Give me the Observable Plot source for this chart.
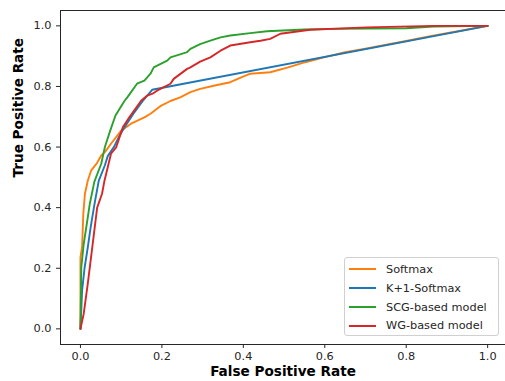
<!DOCTYPE html>
<html>
<head>
<meta charset="utf-8">
<script src="https://cdn.jsdelivr.net/npm/d3@7"></script>
<script src="https://cdn.jsdelivr.net/npm/@observablehq/plot@0.6"></script>
<style>
  html, body { margin: 0; padding: 0; background: #fff; }
  #wrap { position: relative; width: 505px; height: 381px; overflow: hidden; font-family: "DejaVu Sans", sans-serif; }
  #legend { position: absolute; left: 344px; top: 257px; width: 155px; height: 79px; box-sizing: border-box;
    border: 1px solid #d0d0d0; border-radius: 3px; background: rgba(255,255,255,0.8); }
  .item { position: absolute; left: 0; height: 19px; display: flex; align-items: center; }
  .item .sw { width: 27px; height: 0; border-top: 2px solid; margin-left: 4px; margin-right: 10px; }
  .item span { font-size: 11.3px; color: #262626; white-space: nowrap; }
</style>
</head>
<body>
<div id="wrap"><div id="chart"></div><div id="legend"></div></div>
<script>
const seriesNames = ["Softmax", "K+1-Softmax", "SCG-based model", "WG-based model"];
const seriesColors = ["#ff7f0e", "#1f77b4", "#2ca02c", "#d62728"];
const ticks = [0, 0.2, 0.4, 0.6, 0.8, 1.0];

const softmax = [[0,0],[0,.236],[.004,.27],[.007,.38],[.011,.446],[.018,.489],[.026,.522],[.041,.548],[.051,.572],[.061,.585],[.075,.611],[.1,.654],[.124,.677],[.157,.698],[.172,.71],[.196,.735],[.221,.752],[.245,.764],[.27,.781],[.294,.792],[.33,.803],[.368,.814],[.395,.83],[.417,.842],[.466,.847],[.508,.862],[.552,.88],[.6,.897],[.65,.913],[.7,.925],[.748,.937],[.8,.95],[.859,.966],[.93,.983],[1,1]];
const k1softmax = [[0,0],[.004,.126],[.01,.2],[.018,.269],[.025,.335],[.033,.4],[.036,.423],[.045,.489],[.06,.54],[.067,.57],[.082,.6],[.095,.635],[.108,.665],[.13,.71],[.153,.752],[.176,.789],[1,1]];
const scg = [[0,0],[.002,.203],[.008,.28],[.018,.368],[.023,.413],[.034,.485],[.051,.545],[.06,.6],[.072,.65],[.086,.704],[.108,.752],[.115,.764],[.139,.809],[.157,.819],[.172,.842],[.18,.863],[.213,.885],[.221,.896],[.262,.913],[.27,.924],[.294,.94],[.319,.951],[.344,.962],[.368,.968],[.417,.976],[.458,.982],[.55,.988],[.621,.99],[.8,.992],[.867,.998],[1,1]];
const wg = [[0,0],[.008,.05],[.018,.149],[.029,.269],[.041,.4],[.053,.446],[.059,.489],[.075,.578],[.088,.6],[.104,.665],[.12,.698],[.149,.753],[.164,.77],[.177,.776],[.188,.786],[.221,.809],[.229,.825],[.262,.858],[.27,.863],[.294,.882],[.319,.896],[.344,.918],[.368,.935],[.417,.946],[.442,.951],[.466,.957],[.491,.974],[.564,.987],[.703,.995],[.867,1],[1,1]];

const allSeries = [softmax, k1softmax, scg, wg];
const data = allSeries.flatMap((pts, i) => pts.map(([fpr, tpr]) => ({series: seriesNames[i], fpr, tpr})));

const chart = Plot.plot({
  width: 505,
  height: 381,
  marginLeft: 60, marginRight: 0, marginTop: 10, marginBottom: 37,
  style: { fontFamily: "DejaVu Sans, sans-serif", fontSize: "11.3px", color: "#262626", background: "#fff" },
  x: { domain: [-0.05, 1.05], range: [59.6, 507.5] },
  y: { domain: [-0.05, 1.05], range: [343.5, 10.2] },
  color: { domain: seriesNames, range: seriesColors },
  marks: [
    Plot.line(data, { x: "fpr", y: "tpr", z: "series", stroke: "series", strokeWidth: 1.9, strokeLinejoin: "round" }),
    Plot.frame({ stroke: "#262626", strokeWidth: 1 }),
    Plot.axisX({ ticks, tickFormat: d3.format(".1f"), tickSize: 4, tickPadding: 3, label: null, fontSize: 11.3 }),
    Plot.axisY({ ticks, tickFormat: d3.format(".1f"), tickSize: 4, tickPadding: 5, label: null, fontSize: 11.3 }),
    Plot.text(["False Positive Rate"], { frameAnchor: "bottom", dy: 31, fontWeight: "bold", fontSize: 13.6, fill: "#000" }),
    Plot.text(["True Positive Rate"], { frameAnchor: "left", dx: -42, rotate: -90, fontWeight: "bold", fontSize: 13.6, fill: "#000" })
  ]
});
document.getElementById("chart").appendChild(chart);

const legend = document.getElementById("legend");
const rowTops = [1.5, 20.5, 39.5, 58];
seriesNames.forEach((name, i) => {
  const row = document.createElement("div");
  row.className = "item";
  row.style.top = rowTops[i] + "px";
  const sw = document.createElement("div");
  sw.className = "sw";
  sw.style.borderTopColor = seriesColors[i];
  const label = document.createElement("span");
  label.textContent = name;
  row.appendChild(sw);
  row.appendChild(label);
  legend.appendChild(row);
});
</script>
</body>
</html>
